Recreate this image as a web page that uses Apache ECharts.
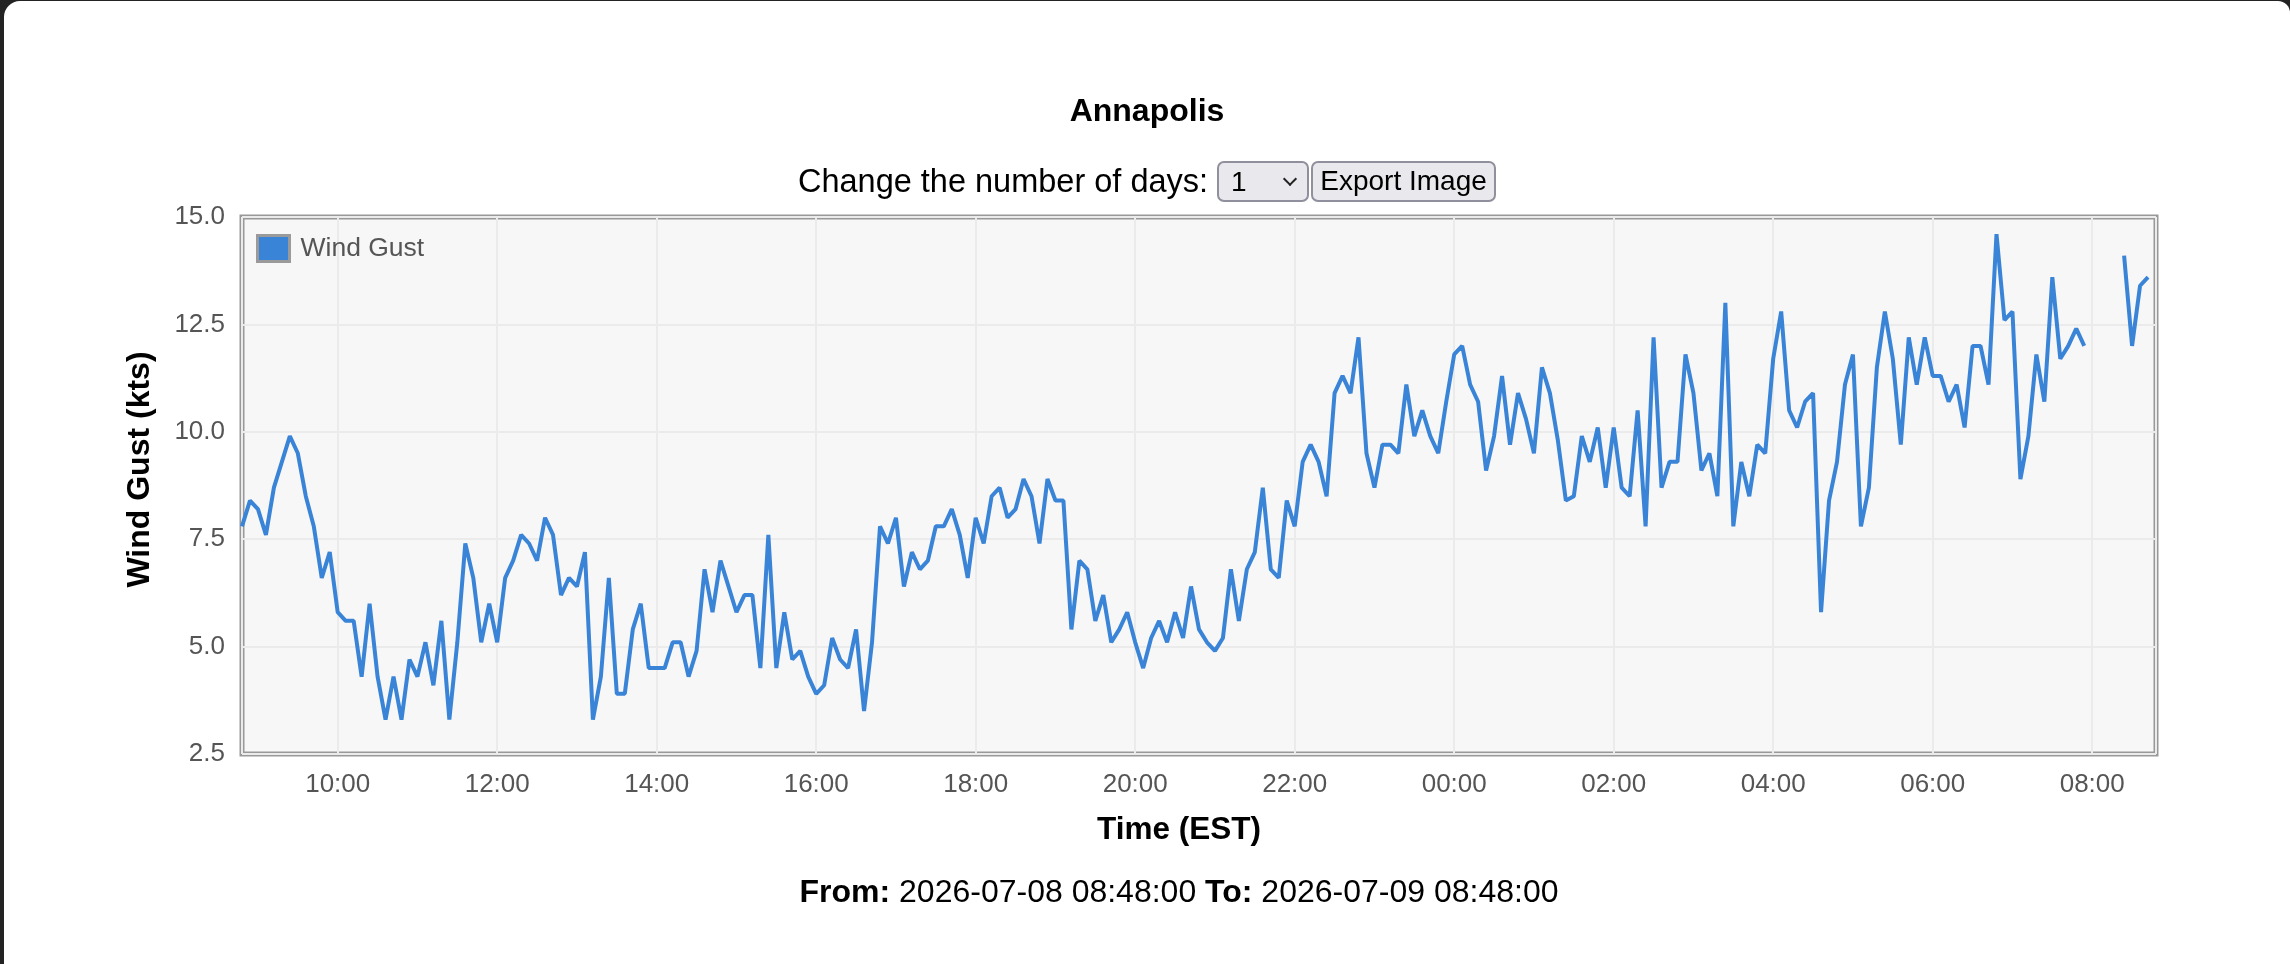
<!DOCTYPE html>
<html>
<head>
<meta charset="utf-8">
<title>Annapolis Wind Gust</title>
<script src="https://cdn.jsdelivr.net/npm/echarts@6/dist/echarts.min.js"></script>
<style>
html, body { margin:0; padding:0; width:2290px; height:964px; overflow:hidden; background:#232323;
  font-family:"Liberation Sans", Arial, Helvetica, sans-serif; }
#page { position:absolute; left:4px; top:1px; width:2286px; height:963px; background:#fff; border-radius:16px 12px 0 0; }
#chart { position:absolute; left:0; top:0; width:2290px; height:964px; }
.title { position:absolute; left:4px; width:2286px; top:91px; text-align:center; font-weight:bold; font-size:32px; line-height:38px; color:#000; }
.controls { position:absolute; left:4px; width:2286px; top:160px; height:42px; display:flex; justify-content:center; align-items:center; font-size:32.5px; color:#000; z-index:2; }
.controls label { margin-right:9px; }
.selwrap { position:relative; width:92px; height:41px; }
.selwrap select { -webkit-appearance:none; appearance:none; width:92px; height:41px; box-sizing:border-box; border:2px solid #8f8f9d; border-radius:7px; background:#e9e9ed; font-family:inherit; font-size:28px; color:#000; padding:0 0 0 12px; margin:0; }
.selwrap .chev { position:absolute; right:14px; top:13px; width:8px; height:8px; border-right:2px solid #222; border-bottom:2px solid #222; transform:rotate(45deg); pointer-events:none; }
.controls button { margin-left:2px; height:41px; width:185px; box-sizing:border-box; border:2px solid #8f8f9d; border-radius:7px; background:#e9e9ed; font-family:inherit; font-size:28px; color:#000; padding:0; }
.range { position:absolute; left:4px; width:2350px; top:872px; text-align:center; font-size:32px; line-height:38px; color:#000; z-index:2; }
</style>
</head>
<body>
<div id="page"></div>
<div id="chart"></div>
<div class="title">Annapolis</div>
<div class="controls">
  <label for="days">Change the number of days:</label>
  <span class="selwrap"><select id="days"><option>1</option><option>2</option><option>3</option><option>7</option></select><span class="chev"></span></span>
  <button type="button">Export Image</button>
</div>
<div class="range"><b>From:</b> 2026-07-08 08:48:00 <b>To:</b> 2026-07-09 08:48:00</div>
<script>
// ---- data ----
const stationName = "Annapolis";
const seriesName = "Wind Gust";
const startTime = new Date(2026, 6, 8, 8, 48, 0).getTime();
const endTime = new Date(2026, 6, 9, 8, 48, 0).getTime();
const stepMinutes = 6;
const yTicks = [2.5, 5.0, 7.5, 10.0, 12.5, 15.0];
// 6-minute wind gust readings (kts), starting 2026-07-08 08:48
const gust = [
  7.8, 8.4, 8.2, 7.6, 8.7, 9.3, 9.9, 9.5, 8.5, 7.8, 6.6, 7.2,
  5.8, 5.6, 5.6, 4.3, 6.0, 4.3, 3.3, 4.3, 3.3, 4.7, 4.3, 5.1,
  4.1, 5.6, 3.3, 5.1, 7.4, 6.6, 5.1, 6.0, 5.1, 6.6, 7.0, 7.6,
  7.4, 7.0, 8.0, 7.6, 6.2, 6.6, 6.4, 7.2, 3.3, 4.3, 6.6, 3.9,
  3.9, 5.4, 6.0, 4.5, 4.5, 4.5, 5.1, 5.1, 4.3, 4.9, 6.8, 5.8,
  7.0, 6.4, 5.8, 6.2, 6.2, 4.5, 7.6, 4.5, 5.8, 4.7, 4.9, 4.3,
  3.9, 4.1, 5.2, 4.7, 4.5, 5.4, 3.5, 5.1, 7.8, 7.4, 8.0, 6.4,
  7.2, 6.8, 7.0, 7.8, 7.8, 8.2, 7.6, 6.6, 8.0, 7.4, 8.5, 8.7,
  8.0, 8.2, 8.9, 8.5, 7.4, 8.9, 8.4, 8.4, 5.4, 7.0, 6.8, 5.6,
  6.2, 5.1, 5.4, 5.8, 5.1, 4.5, 5.2, 5.6, 5.1, 5.8, 5.2, 6.4,
  5.4, 5.1, 4.9, 5.2, 6.8, 5.6, 6.8, 7.2, 8.7, 6.8, 6.6, 8.4,
  7.8, 9.3, 9.7, 9.3, 8.5, 10.9, 11.3, 10.9, 12.2, 9.5, 8.7, 9.7,
  9.7, 9.5, 11.1, 9.9, 10.5, 9.9, 9.5, 10.7, 11.8, 12.0, 11.1, 10.7,
  9.1, 9.9, 11.3, 9.7, 10.9, 10.3, 9.5, 11.5, 10.9, 9.8, 8.4, 8.5,
  9.9, 9.3, 10.1, 8.7, 10.1, 8.7, 8.5, 10.5, 7.8, 12.2, 8.7, 9.3,
  9.3, 11.8, 10.9, 9.1, 9.5, 8.5, 13.0, 7.8, 9.3, 8.5, 9.7, 9.5,
  11.7, 12.8, 10.5, 10.1, 10.7, 10.9, 5.8, 8.4, 9.3, 11.1, 11.8, 7.8,
  8.7, 11.5, 12.8, 11.7, 9.7, 12.2, 11.1, 12.2, 11.3, 11.3, 10.7, 11.1,
  10.1, 12.0, 12.0, 11.1, 14.6, 12.6, 12.8, 8.9, 9.9, 11.8, 10.7, 13.6,
  11.7, 12.0, 12.4, 12.0, null, null, null, null, 14.1, 12.0, 13.4, 13.6
];

const FONT = '"Liberation Sans", Arial, Helvetica, sans-serif';
const pad2 = n => (n < 10 ? '0' : '') + n;
const seriesData = gust.map((v, i) => [startTime + i * stepMinutes * 60000, v]);

const chart = echarts.init(document.getElementById('chart'), null, { renderer: 'canvas' });
chart.setOption({
  animation: false,
  textStyle: { fontFamily: FONT },
  grid: {
    left: 242, top: 217, right: 134, bottom: 210,
    show: true, backgroundColor: '#f7f7f7', borderColor: '#999999', borderWidth: 5
  },
  legend: {
    data: [seriesName], left: 251, top: 229, icon: 'rect',
    itemWidth: 32, itemHeight: 26,
    itemStyle: { borderColor: '#9a9a9a', borderWidth: 3 },
    textStyle: { color: '#555', fontSize: 26.5, fontFamily: FONT, padding: [0, 0, 0, 6] },
    selectedMode: false
  },
  xAxis: {
    type: 'time', min: startTime, max: endTime, splitNumber: 10,
    name: 'Time (EST)', nameLocation: 'middle', nameGap: 60,
    nameTextStyle: { color: '#000', fontSize: 31.5, fontWeight: 'bold', fontFamily: FONT, padding: [0, 40, 0, 0] },
    axisLine: { show: false }, axisTick: { show: false },
    axisLabel: {
      color: '#555', fontSize: 26, margin: 18, fontFamily: FONT,
      showMinLabel: false, showMaxLabel: false, hideOverlap: false,
      formatter: function (v) { const d = new Date(v); return pad2(d.getHours()) + ':' + pad2(d.getMinutes()); }
    },
    splitLine: { show: true, lineStyle: { color: '#ebebeb', width: 2 } }
  },
  yAxis: {
    type: 'value', min: yTicks[0], max: yTicks[yTicks.length - 1], interval: 2.5,
    name: 'Wind Gust (kts)', nameLocation: 'middle', nameGap: 86, nameRotate: 90,
    nameTextStyle: { color: '#000', fontSize: 32, fontWeight: 'bold', fontFamily: FONT, padding: [0, 0, 0, 32] },
    axisLine: { show: false }, axisTick: { show: false },
    axisLabel: { color: '#555', fontSize: 26, margin: 17, fontFamily: FONT, formatter: v => v.toFixed(1) },
    splitLine: { show: true, lineStyle: { color: '#ebebeb', width: 2 } }
  },
  series: [{
    name: seriesName, type: 'line', data: seriesData,
    showSymbol: false, symbol: 'none', connectNulls: false,
    lineStyle: { color: '#3a84d8', width: 4 },
    itemStyle: { color: '#3a84d8' }
  }]
});
</script>
</body>
</html>
